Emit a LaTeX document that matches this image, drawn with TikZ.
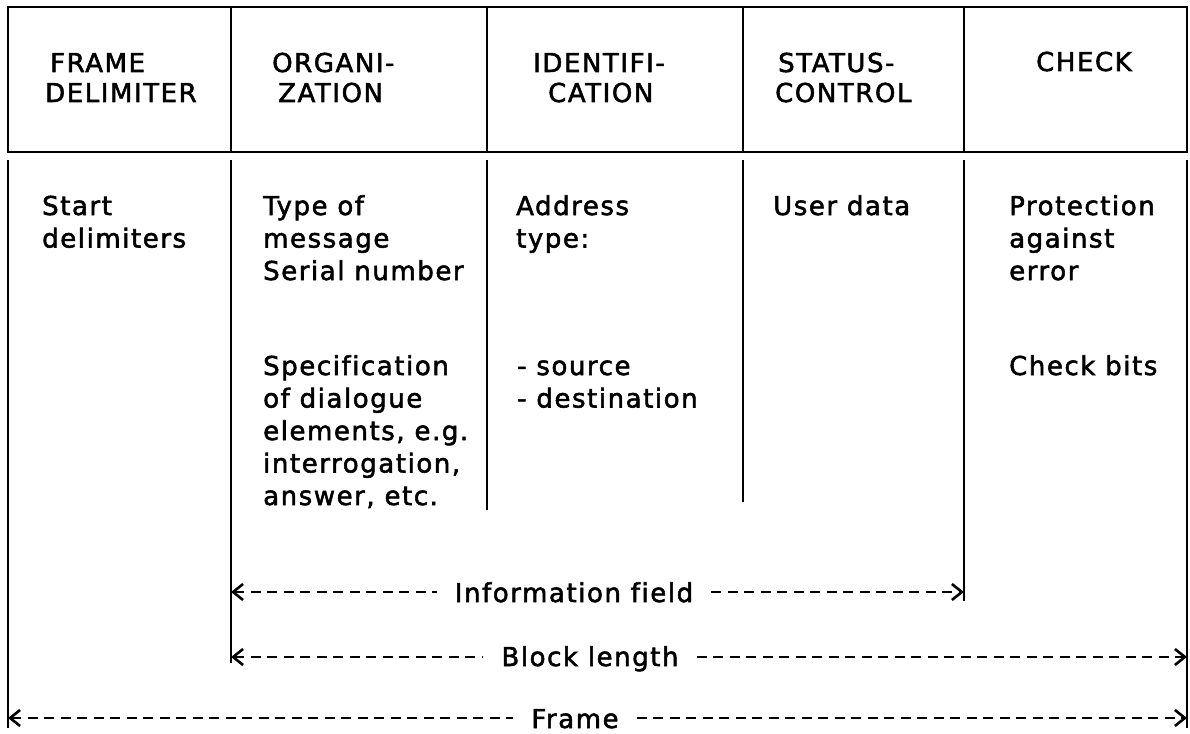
\documentclass[tikz,border=0pt]{standalone}
\usepackage{fontspec}
\setmainfont[LetterSpace=6,FakeBold=2,Ligatures={NoCommon}]{DejaVu Sans}
\usetikzlibrary{arrows.meta}
\begin{document}
\begin{tikzpicture}[x=1pt,y=-1pt,
  rule/.style={line width=2.8pt, line cap=butt},
  hd/.style={anchor=base west, align=left, inner sep=0pt, font=\fontsize{26}{30}\selectfont},
  txt/.style={anchor=base west, align=left, inner sep=0pt, font=\fontsize{26}{32.5}\selectfont},
  lbl/.style={anchor=base, inner ysep=0pt, inner xsep=18pt, font=\fontsize{26}{30}\selectfont},
  dim/.style={line width=2.8pt, dash pattern=on 10pt off 6.5pt},
  tipL/.style={{Straight Barb[length=10pt,width=16pt,line width=2.6pt]}-},
  tipR/.style={-{Straight Barb[length=10pt,width=16pt,line width=2.6pt]}}
]
\useasboundingbox (0,0) rectangle (1190,733);

% header row
\draw[rule] (8,7) rectangle (1187,152);
\foreach \x in {231,487,743,964} \draw[rule] (\x,7) -- (\x,152);

% (anchor base = baseline of the last line)
\node[hd] (h1) at (45,102) {\hspace*{5pt}FRAME\\DELIMITER};
\node[hd] (h2) at (272,102) {ORGANI-\\\hspace*{6pt}ZATION};
\node[hd] (h3) at (533,102) {IDENTIFI-\\\hspace*{15pt}CATION};
\node[hd] (h4) at (775,102) {\hspace*{3pt}STATUS-\\CONTROL};
\node[hd] (h5) at (1036,71) {CHECK};

% lower column rules
\draw[rule] (8,160) -- (8,728);
\draw[rule] (231,160) -- (231,663);
\draw[rule] (487,160) -- (487,510);
\draw[rule] (743,160) -- (743,502);
\draw[rule] (964,160) -- (964,601);
\draw[rule] (1187,160) -- (1187,728);

% texts
\node[txt] (t1) at (42,247.5) {Start\\delimiters};
\node[txt] (t2) at (263,280) {Type of\\message\\Serial number};
\node[txt] (t3) at (263,505) {Specification\\of dialogue\\elements, e.g.\\interrogation,\\answer, etc.};
\node[txt] (t4) at (516,247.5) {Address\\type:};
\node[txt] (t5) at (517,407.5) {- source\\- destination};
\node[txt] (t6) at (773,215) {User data};
\node[txt] (t7) at (1009,280) {Protection\\against\\error};
\node[txt] (t8) at (1009,375) {Check bits};

% dimension arrows
\coordinate (iL) at (231,592);
\coordinate (iR) at (964,592);
\coordinate (bL) at (231,657);
\coordinate (bR) at (1187,657);
\coordinate (fL) at (8,718);
\coordinate (fR) at (1187,718);

\node[lbl] (info) at (574,602) {Information field};
\node[lbl] (blk) at (590,666) {Block length};
\node[lbl] (frm) at (575,728) {Frame};

\draw[dim,tipL] (iL) -- (iL -| info.west);
\draw[dim,tipR] (iR -| info.east) -- (iR);
\draw[dim,tipL] (bL) -- (bL -| blk.west);
\draw[dim,tipR] (bR -| blk.east) -- (bR);
\draw[dim,tipL] (fL) -- (fL -| frm.west);
\draw[dim,tipR] (fR -| frm.east) -- (fR);
\end{tikzpicture}
\end{document}
